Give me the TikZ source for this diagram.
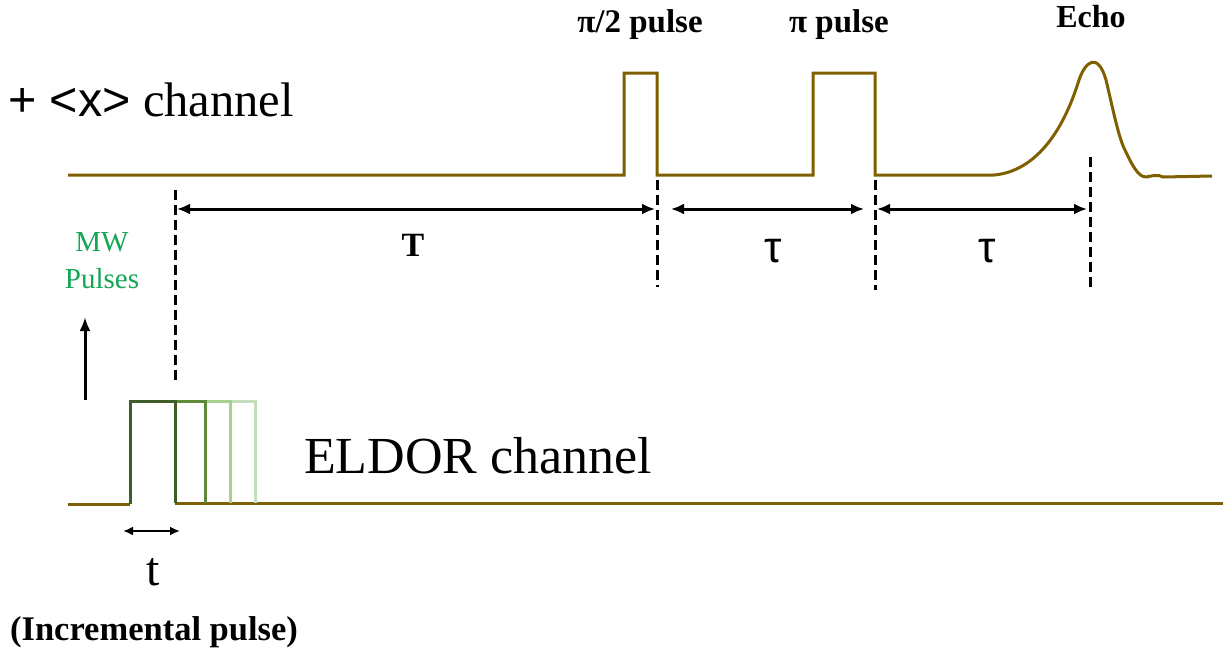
\documentclass[tikz,border=0pt]{standalone}
\usepackage{fontspec}
\setmainfont{Liberation Serif}
\newfontfamily\eprsans{Liberation Sans}
\usetikzlibrary{arrows.meta}
\definecolor{eprSignal}{HTML}{7F6000}
\definecolor{eprGreenA}{HTML}{3F5E27}
\definecolor{eprGreenB}{HTML}{5E8B3B}
\definecolor{eprGreenC}{HTML}{A9D18E}
\definecolor{eprGreenD}{HTML}{C5DDB8}
\definecolor{eprLabel}{HTML}{12A655}

\begin{document}
\begin{tikzpicture}[
    x=1pt, y=-1pt,
    signal/.style={eprSignal, line width=3pt, line join=miter},
    marker/.style={black, line width=3pt, dash pattern=on 10pt off 5pt},
    span/.style={black, line width=3pt, {Latex[length=13pt,width=11pt]}-{Latex[length=13pt,width=11pt]}},
    every node/.style={inner sep=0pt},
]
\useasboundingbox (0,0) rectangle (1223,651);

% ----------------------------------------------------------------------
% + <x> channel (pi/2 pulse, pi pulse, echo)
% ----------------------------------------------------------------------
\draw[signal] (68,175) -- (624,175) -- (624,73) -- (657,73) -- (657,175)
    -- (813,175) -- (813,73) -- (875,73) -- (875,175) -- (994,175)
    .. controls (1030,172) and (1060,140) .. (1078,83)
    .. controls (1085,60) and (1098,52) .. (1106,80)
    .. controls (1112,105) and (1118,135) .. (1124,148)
    .. controls (1132,165) and (1138,177) .. (1146,177)
    .. controls (1152,176) and (1158,174) .. (1163,177)
    -- (1212,176);

% ----------------------------------------------------------------------
% ELDOR channel (incremental pulse, drawn lightest first)
% ----------------------------------------------------------------------
\draw[signal] (68,504) -- (130,504);
\draw[signal] (175,503) -- (1223,503);
\foreach \xe/\col in {255/eprGreenD, 230/eprGreenC, 205/eprGreenB}
    \draw[\col, line width=3pt] (175,401) -- (\xe,401) -- (\xe,503);
\draw[eprGreenA, line width=3pt] (130,504) -- (130,401) -- (175,401) -- (175,503);

% ----------------------------------------------------------------------
% Timing markers
% ----------------------------------------------------------------------
\coordinate (m0top) at (175,190);  \coordinate (m0bot) at (175,380);
\coordinate (m1top) at (657,180);  \coordinate (m1bot) at (657,287);
\coordinate (m2top) at (875,180);  \coordinate (m2bot) at (875,290);
\coordinate (m3top) at (1090,157); \coordinate (m3bot) at (1090,287);
\foreach \m in {m0,m1,m2,m3}
    \draw[marker] (\m top) -- (\m bot);

\coordinate (sT0) at (177,209);  \coordinate (sT1) at (655,209);
\coordinate (sA0) at (671,209);  \coordinate (sA1) at (864,209);
\coordinate (sB0) at (877,209);  \coordinate (sB1) at (1087,209);
\coordinate (st0) at (123,531);  \coordinate (st1) at (180,531);
\draw[span] (sT0) -- (sT1);
\draw[span] (sA0) -- (sA1);
\draw[span] (sB0) -- (sB1);
\draw[black, line width=2.4pt, {Latex[length=10pt,width=9pt]}-{Latex[length=10pt,width=9pt]}] (st0) -- (st1);

% MW pulse direction
\coordinate (mwBase) at (85,400);
\coordinate (mwTip)  at (85,317);
\draw[black, line width=3pt, -{Latex[length=14pt,width=11pt]}] (mwBase) -- (mwTip);

% ----------------------------------------------------------------------
% Labels
% ----------------------------------------------------------------------
\node[anchor=base west] (lblTop) at (8,116)
    {\fontsize{48.5}{54}\selectfont{\eprsans + <x>} channel};
\node[anchor=base west] (lblEldor) at (304,473)
    {\fontsize{52}{58}\selectfont ELDOR channel};
\node[anchor=north, eprLabel, align=center,
      font=\fontsize{29}{37}\selectfont] (lblMW) at (102,232)
    {MW\\Pulses};
\node[anchor=base] (lblHalf) at (640,32)
    {\fontsize{33}{38}\selectfont\bfseries π/2 pulse};
\node[anchor=base] (lblPi) at (839,32)
    {\fontsize{33}{38}\selectfont\bfseries π pulse};
\node[anchor=base] (lblEcho) at (1091,27)
    {\fontsize{32}{36}\selectfont\bfseries Echo};
\node[anchor=base] (lblT) at (413,256)
    {\fontsize{34}{40}\selectfont\bfseries T};
\node[anchor=base] (lblTauA) at (773,262)
    {\fontsize{44}{48}\selectfont\eprsans τ};
\node[anchor=base] (lblTauB) at (987,262)
    {\fontsize{44}{48}\selectfont\eprsans τ};
\node[anchor=base] (lblt) at (153,585)
    {\fontsize{48}{54}\selectfont t};
\node[anchor=base] (lblInc) at (154,640)
    {\fontsize{34.5}{40}\selectfont\bfseries (Incremental pulse)};

\end{tikzpicture}
\end{document}
